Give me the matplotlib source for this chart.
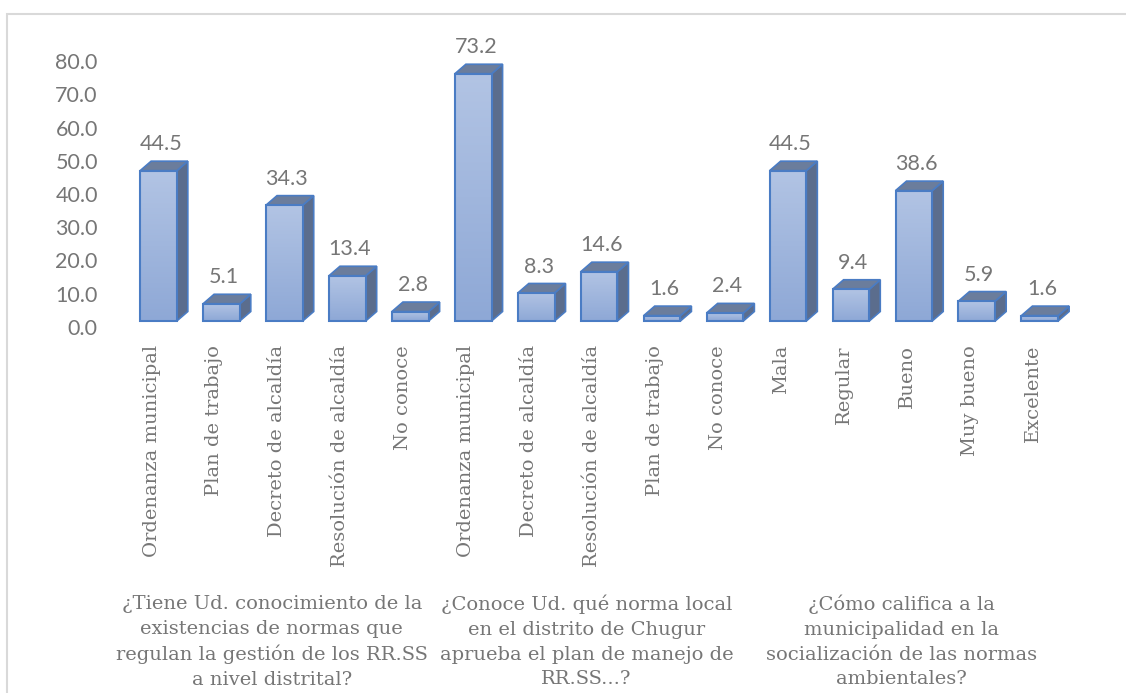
import numpy as np
import matplotlib
matplotlib.use("Agg")
import matplotlib.pyplot as plt
from matplotlib.patches import Polygon, Rectangle
from matplotlib.colors import LinearSegmentedColormap

# chart data
categories = [
    "Ordenanza municipal", "Plan de trabajo", "Decreto de alcaldía",
    "Resolución de alcaldía", "No conoce",
    "Ordenanza municipal", "Decreto de alcaldía", "Resolución de alcaldía",
    "Plan de trabajo", "No conoce",
    "Mala", "Regular", "Bueno", "Muy bueno", "Excelente",
]
values = [44.5, 5.1, 34.3, 13.4, 2.8,
          73.2, 8.3, 14.6, 1.6, 2.4,
          44.5, 9.4, 38.6, 5.9, 1.6]
groups = [
    "¿Tiene Ud. conocimiento de la\nexistencias de normas que\nregulan la gestión de los RR.SS\na nivel distrital?",
    "¿Conoce Ud. qué norma local\nen el distrito de Chugur\naprueba el plan de manejo de\nRR.SS...?",
    "¿Cómo califica a la\nmunicipalidad en la\nsocialización de las normas\nambientales?",
]
group_sizes = [5, 5, 5]
yticks = np.arange(0, 81, 10)

W, H = 1126, 693
GRAY = "#767676"
EDGE = "#4a7cc4"
TOP = "#6b7d9c"
SIDE = "#5b6d8d"
front_cmap = LinearSegmentedColormap.from_list("front", ["#8ea8d6", "#b2c4e4"])

fig = plt.figure(figsize=(W / 100, H / 100), dpi=100)

# light frame of the chart area
fig.patches.append(Rectangle((7 / W, -0.1), 1.2, (H - 14) / H + 0.1,
                             transform=fig.transFigure, fill=False,
                             edgecolor="#d9d9d9", lw=1.5))

rect = [127 / W, (H - 327) / H, 944.25 / W, (327 - 61) / H]

# axis used only for the value scale
ax = fig.add_axes(rect)
ax.set_xlim(-0.5, len(values) - 0.5)
ax.set_ylim(0, 80)
ax.set_yticks(yticks)
ax.set_yticklabels([f"{t:.1f}" for t in yticks], fontfamily="Lato",
                   fontsize=15.5, color=GRAY)
ax.tick_params(axis="y", length=0, pad=21)
ax.set_xticks([])
for s in ax.spines.values():
    s.set_visible(False)
ax.patch.set_visible(False)

# axis with the 3D-looking bars (front faces sit a little lower)
axb = fig.add_axes(rect)
px_per_unit = 3.378
lo = -6 / px_per_unit
axb.set_xlim(-0.5, len(values) - 0.5)
axb.set_ylim(lo, lo + 266 / px_per_unit)
axb.axis("off")

bw = 0.583
ddx = 11 / 62.95
ddy = 9.5 / px_per_unit
grad = np.linspace(0, 1, 100).reshape(-1, 1)

for i, v in enumerate(values):
    x0, x1 = i - bw / 2, i + bw / 2
    side = Polygon([(x1, 0), (x1 + ddx, ddy), (x1 + ddx, v + ddy), (x1, v)],
                   closed=True, facecolor=SIDE, edgecolor=EDGE, lw=1.2,
                   zorder=2, clip_on=False)
    top = Polygon([(x0, v), (x1, v), (x1 + ddx, v + ddy), (x0 + ddx, v + ddy)],
                  closed=True, facecolor=TOP, edgecolor=EDGE, lw=1.2,
                  zorder=2, clip_on=False)
    axb.add_patch(side)
    axb.add_patch(top)
    axb.imshow(grad, extent=[x0, x1, 0, v], origin="lower", aspect="auto",
               cmap=front_cmap, zorder=3, clip_on=False)
    axb.add_patch(Rectangle((x0, 0), bw, v, fill=False, edgecolor=EDGE,
                            lw=1.5, zorder=4, clip_on=False))
    axb.annotate(f"{v:.1f}", xy=(i + 0.04, v + ddy), xytext=(0, 5),
                 textcoords="offset points", ha="center", va="bottom",
                 fontfamily="Lato", fontsize=15.5, color=GRAY)

axb.set_xlim(-0.5, len(values) - 0.5)
axb.set_ylim(lo, lo + 266 / px_per_unit)

# rotated category labels
for i, c in enumerate(categories):
    axb.annotate(c, xy=(i, 1 - 345 / H), xycoords=("data", "figure fraction"),
                 xytext=(-5, 0), textcoords="offset points", rotation=90,
                 ha="center", va="top", fontfamily="DejaVu Serif",
                 fontsize=14, color=GRAY)

# group labels
start = 0
for g, n in zip(groups, group_sizes):
    mid = start + (n - 1) / 2
    axb.annotate(g, xy=(mid, 1 - 595 / H), xycoords=("data", "figure fraction"),
                 xytext=(-9, 0), textcoords="offset points", ha="center",
                 va="top", multialignment="center", linespacing=1.47,
                 fontfamily="DejaVu Serif", fontsize=14, color=GRAY)
    start += n

fig.savefig("out.png", dpi=100)
